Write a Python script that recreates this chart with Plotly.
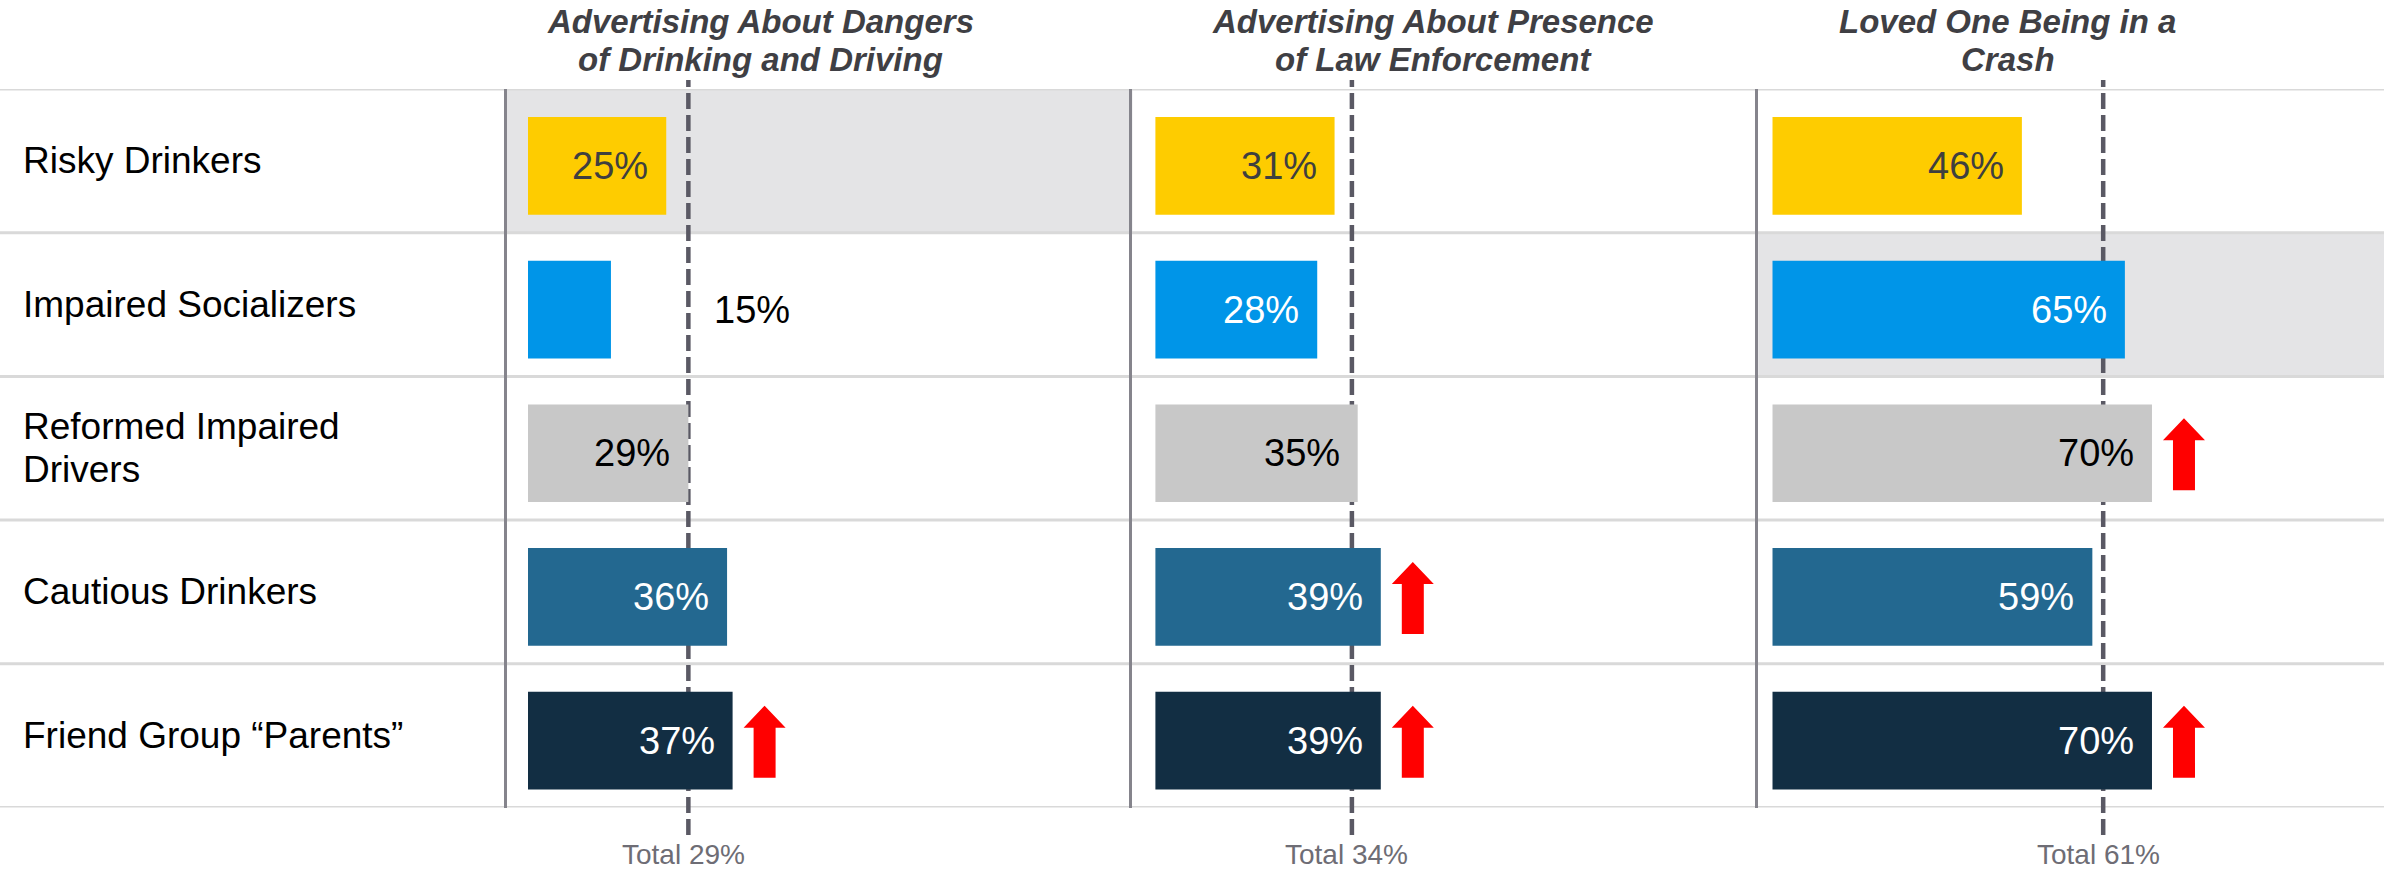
import plotly.graph_objects as go

# ---- data -------------------------------------------------------------
segments = [
    "Risky Drinkers",
    "Impaired Socializers",
    "Reformed Impaired\nDrivers",
    "Cautious Drinkers",
    "Friend Group “Parents”",
]
panel_titles = [
    ["Advertising About Dangers", "of Drinking and Driving"],
    ["Advertising About Presence", "of Law Enforcement"],
    ["Loved One Being in a", "Crash"],
]
dangers_pct = [25, 15, 29, 36, 37]
law_enforcement_pct = [31, 28, 35, 39, 39]
loved_one_crash_pct = [46, 65, 70, 59, 70]
total_pct = [29, 34, 61]

dangers_up = [False, False, False, False, True]
law_enforcement_up = [False, False, False, True, True]
loved_one_crash_up = [False, False, True, False, True]

highlighted_segment = ["Risky Drinkers", None, "Impaired Socializers"]

# ---- styling ----------------------------------------------------------
W, H = 2384, 871
FONT = "Liberation Sans, Arial, sans-serif"
bar_colors = ["#FECC00", "#0095E8", "#C8C8C8", "#236890", "#122E43"]
label_colors = ["#3F3F3F", "#FFFFFF", "#000000", "#FFFFFF", "#FFFFFF"]
highlight_fill = "#E4E4E6"
row_rule = "#D9D9D9"
panel_rule = "#85848C"
total_rule = "#5A5964"
total_text = "#6E6D75"
title_text = "#3F3F44"
arrow_red = "#FF0000"

panel_values = [dangers_pct, law_enforcement_pct, loved_one_crash_pct]
panel_up = [dangers_up, law_enforcement_up, loved_one_crash_up]
x_ranges = [[-3.87, 109.3], [-3.98, 104.3], [-2.64, 112.8]]
title_centers_px = [760, 1433, 2008]

left_px = 506.6
panel_w_px = (W - left_px) / 3
top_px, bottom_px = 89, 807.5
row_px = (bottom_px - top_px) / len(segments)
y_domain = [1 - bottom_px / H, 1 - top_px / H]

bar_width = 0.68
bar_drop_px = 5          # bars sit slightly below the middle of each row
bar_offset = -bar_width / 2 + bar_drop_px / row_px

value_font = 38
label_pad = 16

# up-arrow outline in pixels, relative to the bar end / row centre
arrow_path = ("M 21 -42 L 43 -42 L 43 8 L 53 8 L 32 30 "
              "L 11 8 L 21 8 Z")

fig = go.Figure()
shapes = []
annotations = []

row_keys = [s.replace("\n", " ") for s in segments]

for p in range(3):
    xa = "x" if p == 0 else f"x{p + 1}"
    ya = "y" if p == 0 else f"y{p + 1}"
    vals = panel_values[p]
    fig.add_trace(go.Bar(
        x=vals, y=row_keys, orientation="h",
        marker=dict(color=bar_colors, line=dict(width=0)),
        width=bar_width, offset=bar_offset,
        xaxis=xa, yaxis=ya, hoverinfo="skip", showlegend=False,
    ))

    px_per_unit = panel_w_px / (x_ranges[p][1] - x_ranges[p][0])

    # highlighted row band
    hl = highlighted_segment[p]
    if hl is not None:
        k = row_keys.index(hl)
        shapes.append(dict(type="rect", xref=f"{xa} domain", yref=ya,
                           x0=0, x1=1, y0=k - 0.5, y1=k + 0.5,
                           fillcolor=highlight_fill, line=dict(width=0),
                           layer="below"))

    # value labels
    for k, v in enumerate(vals):
        label = f"{v}%"
        label_w = 2.0 * value_font
        if v * px_per_unit >= label_w + 2 * label_pad:
            annotations.append(dict(
                x=v, y=row_keys[k], xref=xa, yref=ya, text=label,
                showarrow=False, xanchor="right", yanchor="middle",
                xshift=-label_pad, yshift=-bar_drop_px,
                font=dict(family=FONT, size=value_font, color=label_colors[k])))
        else:
            annotations.append(dict(
                x=max(v, total_pct[p]), y=row_keys[k], xref=xa, yref=ya,
                text=label, showarrow=False, xanchor="left",
                yanchor="middle", xshift=24, yshift=-bar_drop_px,
                font=dict(family=FONT, size=value_font, color="#000000")))

        # significant-increase arrow
        if panel_up[p][k]:
            shapes.append(dict(
                type="path", xref=xa, yref=ya,
                xsizemode="pixel", ysizemode="pixel",
                xanchor=v, yanchor=k, path=arrow_path,
                fillcolor=arrow_red, line=dict(width=0), layer="above"))

    # total reference line and label
    shapes.append(dict(type="line", xref=xa, yref="paper",
                       x0=total_pct[p], x1=total_pct[p],
                       y0=1 - 835 / H, y1=1 - 80 / H,
                       line=dict(color=total_rule, width=4.5, dash="16px,6px"),
                       layer="below"))
    annotations.append(dict(
        x=total_pct[p], y=1 - 854 / H, xref=xa, yref="paper",
        text=f"Total {total_pct[p]}%", showarrow=False,
        xanchor="center", yanchor="middle", xshift=-5,
        font=dict(family=FONT, size=28, color=total_text)))

    # panel heading
    for j, line in enumerate(panel_titles[p]):
        annotations.append(dict(
            x=title_centers_px[p] / W, y=1 - (22 + 38 * j) / H,
            xref="paper", yref="paper", text=f"<b><i>{line}</i></b>",
            showarrow=False, xanchor="center", yanchor="middle",
            font=dict(family=FONT, size=33, color=title_text)))

    dom = [(left_px + p * panel_w_px) / W, (left_px + (p + 1) * panel_w_px) / W]
    fig.update_layout(**{
        ("xaxis" if p == 0 else f"xaxis{p + 1}"): dict(
            domain=[dom[0], min(dom[1], 1.0)], range=x_ranges[p],
            showgrid=False, zeroline=False, showticklabels=False,
            ticks="", showline=False, fixedrange=True,
            anchor=ya),
        ("yaxis" if p == 0 else f"yaxis{p + 1}"): dict(
            domain=y_domain, range=[4.5, -0.5], type="category",
            categoryorder="array", categoryarray=row_keys,
            showgrid=False, zeroline=False, showticklabels=False,
            ticks="", showline=True, linecolor=panel_rule, linewidth=3,
            fixedrange=True, anchor=xa),
    })

# horizontal row rules across the full width
for k in range(len(row_keys) + 1):
    shapes.insert(0, dict(type="line", xref="paper", yref="y",
                          x0=0, x1=1, y0=k - 0.5, y1=k - 0.5,
                          line=dict(color=row_rule, width=3), layer="below"))
# keep highlight bands underneath the rules
shapes.sort(key=lambda s: 0 if s["type"] == "rect" else 1)

# segment names on the left
for k, name in enumerate(segments):
    lines = name.split("\n")
    n = len(lines)
    for j, line in enumerate(lines):
        annotations.append(dict(
            x=21 / W, y=row_keys[k], xref="paper", yref="y", text=line,
            showarrow=False, xanchor="left", yanchor="middle",
            yshift=(n - 1) * 21.5 - j * 43,
            font=dict(family=FONT, size=37, color="#000000")))

fig.update_layout(
    width=W, height=H,
    margin=dict(l=0, r=0, t=0, b=0),
    paper_bgcolor="white", plot_bgcolor="rgba(0,0,0,0)",
    shapes=shapes, annotations=annotations,
    font=dict(family=FONT),
)

fig.write_html("out.html", config={"displayModeBar": False})
